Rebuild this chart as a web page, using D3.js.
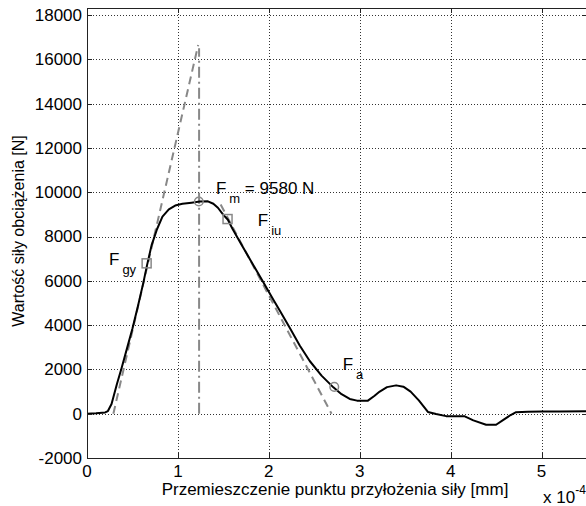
<!DOCTYPE html>
<html>
<head>
<meta charset="utf-8">
<script src="https://cdn.jsdelivr.net/npm/d3@7"></script>
<style>
  body { margin: 0; background: #fff; }
  svg { display: block; font-family: "Liberation Sans", Arial, sans-serif; }
</style>
</head>
<body>
<div id="chart"></div>
<script>
// ===== Data (x in 1e-4 mm, y in N) =====
const curveX = [0, 0.1, 0.2, 0.23, 0.27, 0.29, 0.33, 0.38, 0.44, 0.5, 0.56, 0.62, 0.66, 0.71, 0.77, 0.83, 0.9, 0.97, 1.05, 1.15, 1.24, 1.33, 1.39, 1.44, 1.5, 1.55, 1.6, 1.7, 1.8, 1.93, 2.05, 2.12, 2.23, 2.34, 2.45, 2.58, 2.71, 2.8, 2.89, 2.97, 3.09, 3.16, 3.22, 3.3, 3.4, 3.48, 3.56, 3.65, 3.75, 3.84, 3.95, 4.15, 4.25, 4.39, 4.5, 4.58, 4.66, 4.72, 4.85, 5.0, 5.2, 5.5];
const curveY = [0, 20, 60, 120, 435, 740, 1350, 2050, 2950, 3850, 4850, 5920, 6700, 7600, 8330, 8900, 9230, 9400, 9480, 9530, 9580, 9590, 9480, 9300, 8980, 8760, 8350, 7630, 6920, 6000, 5150, 4660, 3880, 3080, 2380, 1720, 1190, 880, 665, 590, 590, 800, 1000, 1200, 1280, 1220, 1000, 600, 80, -15, -110, -110, -300, -500, -500, -280, -60, 70, 90, 100, 100, 110];

const tangentLine = [[0.29, 0], [1.223, 16650]];
const unloadLine = [[1.47, 9450], [2.69, 0]];
const peakLine = [[1.233, 0], [1.233, 16500]];

const circlePts = [[1.23, 9580], [2.72, 1210]];
const squarePts = [[0.656, 6790], [1.546, 8790]];

const labelSubs = ["gy", "m", "iu", "a"];
const labelRest = ["", " = 9580 N", "", ""];
const labelPos = [[0.242, 6713], [1.418, 9919], [1.879, 8474], [2.813, 1973]];

const xTicks = [0, 1, 2, 3, 4, 5];
const yTicks = [-2000, 0, 2000, 4000, 6000, 8000, 10000, 12000, 14000, 16000, 18000];

// ===== Layout =====
const W = 586, H = 506;
const pLeft = 87, pRight = 587, pTop = 8, pBottom = 458;

const svg = d3.select("#chart").append("svg")
  .attr("width", W)
  .attr("height", H);

const x = d3.scaleLinear().domain([0, 5.5]).range([pLeft, pRight]);
const y = d3.scaleLinear().domain([-2000, 18320]).range([pBottom, pTop]);

const px = (v) => Math.round(v) + 0.5;

// ===== Grid =====
const grid = svg.append("g")
  .attr("stroke", "#333")
  .attr("stroke-width", 1)
  .attr("stroke-dasharray", "1,2");
grid.selectAll("line.gx")
  .data(xTicks.filter((d) => d > 0))
  .enter().append("line")
  .attr("x1", (d) => px(x(d))).attr("x2", (d) => px(x(d)))
  .attr("y1", pTop).attr("y2", pBottom);
grid.selectAll("line.gy")
  .data(yTicks.filter((d) => d > -2000))
  .enter().append("line")
  .attr("y1", (d) => px(y(d))).attr("y2", (d) => px(y(d)))
  .attr("x1", pLeft).attr("x2", pRight);

// ===== Reference lines =====
const line = d3.line().x((d) => x(d[0])).y((d) => y(d[1]));

svg.append("path")
  .datum(tangentLine)
  .attr("d", line)
  .attr("fill", "none")
  .attr("stroke", "#888")
  .attr("stroke-width", 2)
  .attr("stroke-dasharray", "8,5");

svg.append("path")
  .datum(unloadLine)
  .attr("d", line)
  .attr("fill", "none")
  .attr("stroke", "#888")
  .attr("stroke-width", 2)
  .attr("stroke-dasharray", "8,5");

svg.append("path")
  .datum(peakLine)
  .attr("d", line)
  .attr("fill", "none")
  .attr("stroke", "#888")
  .attr("stroke-width", 2)
  .attr("stroke-dasharray", "11,4,2,4");

// ===== Main curve =====
const curve = curveX.map((d, i) => [d, curveY[i]]);
svg.append("path")
  .datum(curve)
  .attr("d", line)
  .attr("fill", "none")
  .attr("stroke", "#000")
  .attr("stroke-width", 2)
  .attr("stroke-linejoin", "round");

// ===== Markers =====
svg.selectAll("circle.mk")
  .data(circlePts)
  .enter().append("circle")
  .attr("cx", (d) => x(d[0]))
  .attr("cy", (d) => y(d[1]))
  .attr("r", 4.3)
  .attr("fill", "none")
  .attr("stroke", "#888")
  .attr("stroke-width", 1.5);

svg.selectAll("rect.mk")
  .data(squarePts)
  .enter().append("rect")
  .attr("x", (d) => x(d[0]) - 4.5)
  .attr("y", (d) => y(d[1]) - 4.5)
  .attr("width", 9)
  .attr("height", 9)
  .attr("fill", "none")
  .attr("stroke", "#888")
  .attr("stroke-width", 1.5);

// ===== Labels F_xx =====
labelSubs.forEach((s, i) => {
  const t = svg.append("text")
    .attr("x", x(labelPos[i][0]))
    .attr("y", y(labelPos[i][1]))
    .attr("font-size", 17)
    .attr("fill", "#000");
  t.append("tspan").text("F");
  t.append("tspan").attr("dx", 3).attr("dy", 9).attr("font-size", 13).text(s);
  if (labelRest[i]) {
    t.append("tspan").attr("dy", -9).style("white-space", "pre").text(labelRest[i]);
  }
});

// ===== Axes box and ticks =====
const axes = svg.append("g").attr("stroke", "#222").attr("stroke-width", 1);
axes.append("rect")
  .attr("x", pLeft + 0.5).attr("y", pTop + 0.5)
  .attr("width", pRight - pLeft).attr("height", pBottom - pTop)
  .attr("fill", "none");
axes.selectAll("g.tx")
  .data(xTicks)
  .enter().append("g")
  .each(function (d) {
    const g = d3.select(this);
    g.append("line").attr("x1", px(x(d))).attr("x2", px(x(d))).attr("y1", pBottom).attr("y2", pBottom - 5);
    g.append("line").attr("x1", px(x(d))).attr("x2", px(x(d))).attr("y1", pTop).attr("y2", pTop + 5);
  });
axes.selectAll("g.ty")
  .data(yTicks)
  .enter().append("g")
  .each(function (d) {
    const g = d3.select(this);
    g.append("line").attr("y1", px(y(d))).attr("y2", px(y(d))).attr("x1", pLeft).attr("x2", pLeft + 5);
    g.append("line").attr("y1", px(y(d))).attr("y2", px(y(d))).attr("x1", pRight - 5).attr("x2", pRight);
  });

// ===== Tick labels =====
svg.selectAll("text.xt")
  .data(xTicks)
  .enter().append("text")
  .attr("x", (d) => x(d))
  .attr("y", 477)
  .attr("text-anchor", "middle")
  .attr("font-size", 17)
  .text((d) => d);

svg.selectAll("text.yt")
  .data(yTicks)
  .enter().append("text")
  .attr("x", 82)
  .attr("y", (d) => y(d))
  .attr("dy", "0.35em")
  .attr("text-anchor", "end")
  .attr("font-size", 17)
  .text((d) => d);

// ===== Axis titles =====
svg.append("text")
  .attr("x", (pLeft + pRight) / 2 - 2)
  .attr("y", 495)
  .attr("text-anchor", "middle")
  .attr("font-size", 17)
  .text("Przemieszczenie punktu przyłożenia siły [mm]");

svg.append("text")
  .attr("transform", "translate(24,231) rotate(-90)")
  .attr("text-anchor", "middle")
  .attr("font-size", 16)
  .text("Wartość siły obciążenia [N]");

const expo = svg.append("text")
  .attr("x", 543)
  .attr("y", 503)
  .attr("font-size", 17);
expo.append("tspan").text("x 10");
expo.append("tspan").attr("dy", -9).attr("font-size", 12).text("-4");
</script>
</body>
</html>
